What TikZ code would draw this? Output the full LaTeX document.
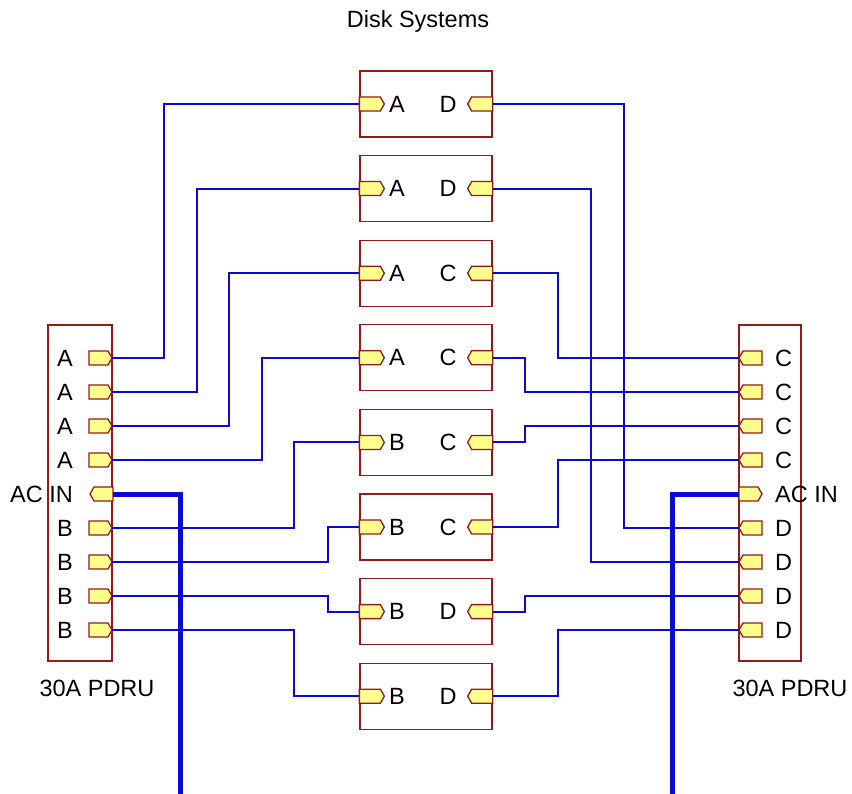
\documentclass[tikz,border=0pt]{standalone}
\usepackage{fontspec}
\setmainfont{Liberation Sans}
\usepackage{xcolor}
\usetikzlibrary{positioning}

\definecolor{boxred}{RGB}{150,25,25}
\definecolor{portyellow}{RGB}{255,255,140}
\definecolor{wireblue}{RGB}{10,10,210}

\tikzset{
  unit/.style={draw=boxred, line width=1.3pt, fill=white, inner sep=0pt},
  pinlook/.style={draw=boxred, fill=portyellow, line width=1.3pt, line join=miter},
  port/.style={minimum width=23pt, minimum height=14pt, inner sep=0pt, outer sep=0pt},
  % port with its point on the right
  portE/.style={port, append after command={\pgfextra{\let\pn\tikzlastnode
    \filldraw[pinlook] (\pn.south west) -- ([xshift=-4pt]\pn.south east) -- (\pn.east)
      -- ([xshift=-4pt]\pn.north east) -- (\pn.north west) -- cycle;}}},
  % port with its point on the left
  portW/.style={port, append after command={\pgfextra{\let\pn\tikzlastnode
    \filldraw[pinlook] (\pn.south east) -- ([xshift=4pt]\pn.south west) -- (\pn.west)
      -- ([xshift=4pt]\pn.north west) -- (\pn.north east) -- cycle;}}},
  tag/.style={inner sep=0pt, font=\fontsize{23.5}{26}\selectfont},
  wire/.style={draw=wireblue, line width=2pt},
  mains/.style={draw=wireblue, line width=5pt}
}

\begin{document}
\begin{tikzpicture}[x=1pt, y=-1pt]
  \useasboundingbox (0,0) rectangle (852,794);
  % title
  \node[tag] (title) at (418,21) {Disk Systems};

  % left PDRU
  \node[unit, minimum width=64pt, minimum height=336pt] (pdruL) at (80,493) {};
  \node[tag] (nameL) at (97,688) {30A PDRU};
  \foreach \lbl [count=\i] in {A,A,A,A,AC IN,B,B,B,B}
    \node[tag, anchor=east] at (73,324+34*\i) {\lbl};
  \foreach \i in {1,2,3,4,6,7,8,9}
    \node[portE, anchor=east] (pl\i) at (112,324+34*\i) {};
  \node[portW, anchor=east] (pl5) at (113,494) {};

  % right PDRU
  \node[unit, minimum width=62pt, minimum height=336pt] (pdruR) at (770,493) {};
  \node[tag] (nameR) at (790,688) {30A PDRU};
  \foreach \lbl [count=\i] in {C,C,C,C,AC IN,D,D,D,D}
    \node[tag, anchor=west] at (775,324+34*\i) {\lbl};
  \foreach \i in {1,2,3,4,6,7,8,9}
    \node[portW, anchor=west] (pr\i) at (739,324+34*\i) {};
  \node[portE, anchor=west] (pr5) at (739,494) {};

  % disk systems
  \foreach \k/\a/\b in {1/A/D,2/A/D,3/A/C,4/A/C,5/B/C,6/B/C,7/B/D,8/B/D} {
    \node[unit, minimum width=132pt, minimum height=66pt] (disk\k) at (426,104+84.6*\k-84.6) {};
    \node[portE, minimum width=25pt, anchor=west] (din\k) at (disk\k.west) {};
    \node[portW, minimum width=25pt, anchor=east] (dout\k) at (disk\k.east) {};
    \node[tag] at ([xshift=-29pt]disk\k.center) {\a};
    \node[tag] at ([xshift=22pt]disk\k.center) {\b};
  }

  % feeds from left PDRU
  \foreach \i/\k/\dx in {1/1/52,2/2/85,3/3/117,4/4/150,6/5/182,7/6/216,8/7/216,9/8/182}
    \draw[wire] (pl\i.east) -- ++(\dx,0) |- (din\k.west);
  % feeds to right PDRU
  \foreach \k/\i/\dx in {1/6/131,2/7/98,3/1/65,4/2/32,5/3/32,6/4/65,7/8/32,8/9/65}
    \draw[wire] (dout\k.east) -- ++(\dx,0) |- (pr\i.west);

  % AC inputs
  \coordinate (acL) at (180,794);
  \coordinate (acR) at (672,794);
  \draw[mains] (pl5.east) -| (acL);
  \draw[mains] (pr5.west) -| (acR);
\end{tikzpicture}
\end{document}
